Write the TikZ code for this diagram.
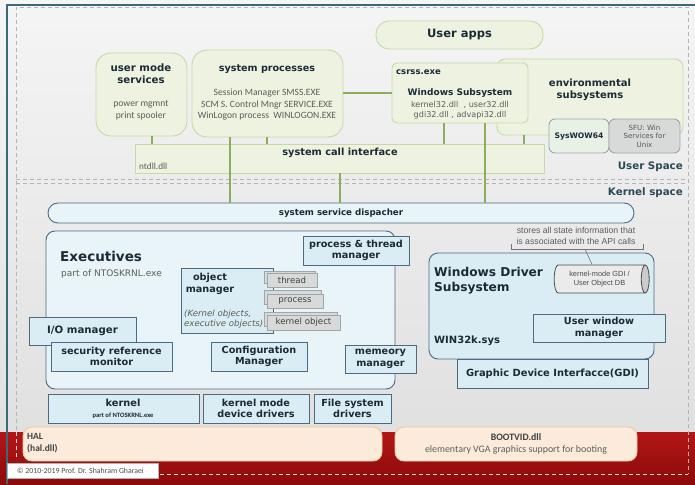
\documentclass[tikz,border=0pt]{standalone}
\usepackage{fontspec}
\setmainfont{DejaVu Sans}
\newfontfamily\calf{Carlito}
\newfontfamily\arif{Liberation Sans}
\usetikzlibrary{shapes.geometric}
\definecolor{gF}{HTML}{EDF3E0}
\definecolor{gB}{HTML}{C6D9A6}
\definecolor{gL}{HTML}{8CAE5A}
\definecolor{bF}{HTML}{DAEDF4}
\definecolor{bB}{HTML}{4D6A80}
\definecolor{tx}{HTML}{1C2A36}
\definecolor{sub}{HTML}{5A5F58}
\definecolor{grF}{HTML}{D8D9D9}
\definecolor{grB}{HTML}{9FA6AA}
\definecolor{pF}{HTML}{FCEBDA}
\definecolor{pB}{HTML}{E8C9A2}
\definecolor{teal}{HTML}{3D6878}
\definecolor{dash}{HTML}{B0B7B7}
\newcommand\fsz[1]{\fontsize{#1}{\fpeval{#1*1.2}}\selectfont}
\newcommand\rbox[6]{\node[#2,minimum width={#5-#3},minimum height={#6-#4}] (#1) at ({(#3+#5)/2},{(#4+#6)/2})}
\tikzset{
  gbox/.style={draw=gB,fill=gF,line width=0.9pt,inner sep=0pt,rounded corners=12pt},
  bbox/.style={draw=bB,fill=bF,line width=0.9pt,inner sep=0pt,align=center,text=tx,font=\bfseries\fsz{9.7}},
  grbox/.style={draw=grB,fill=grF,line width=0.7pt,inner sep=0pt,text=black!75,font=\fsz{8.6}},
  pbox/.style={draw=pB,fill=pF,line width=0.9pt,inner sep=0pt,rounded corners=9pt},
  ttl/.style={inner sep=0pt,align=center,text=tx,font=\bfseries\fsz{9.6}},
  subt/.style={inner sep=0pt,align=center,text=sub,font=\calf\fsz{9.6}},
  conn/.style={draw=gL,line width=1.3pt},
  dsh/.style={draw=dash,line width=0.9pt,dash pattern=on 4pt off 3pt}
}
\begin{document}
\begin{tikzpicture}[x=1pt,y=-1pt]
\useasboundingbox (0,0) rectangle (695,484);
% background
\shade[top color=black!4,bottom color=black!12] (0,0) rectangle (695,432);
\shade[top color={rgb,255:red,180;green,22;blue,22},bottom color={rgb,255:red,140;green,10;blue,10}] (0,432) rectangle (695,484);
\draw[teal,line width=1.6pt] (7,484) -- (7,5) -- (695,5);
% dashed space frames
\draw[dsh] (16,430) -- (16,7) -- (688,7) -- (688,474);
\draw[dsh] (16,179) -- (688,179);
\draw[dsh] (16,183) -- (688,183);
\draw[draw=white!85!red,line width=0.9pt,dash pattern=on 4pt off 3pt] (16,432) -- (16,460);
\draw[draw=white!85!red,line width=0.9pt,dash pattern=on 4pt off 3pt] (160,474) -- (688,474);
\node[inner sep=0pt,anchor=east,text=teal!70!black,font=\bfseries\fsz{10.3}] (uslbl) at (683,167) {User Space};
\node[inner sep=0pt,anchor=east,text=teal!70!black,font=\bfseries\fsz{10.3}] (kslbl) at (683,193) {Kernel space};

% ---------- user space ----------
\rbox{ua}{gbox,rounded corners=13pt,text=tx,font=\bfseries\fsz{11.5}}{376}{21}{543}{49} {User apps};
\rbox{ums}{gbox,rounded corners=15pt}{96}{53}{187}{136} {};
\node[ttl,font=\bfseries\fsz{10.2}] (umsT) at (141,74) {user mode\\services};
\node[subt] (umsS) at (141,110) {power mgmnt\\print spooler};
\rbox{sp}{gbox,rounded corners=15pt}{192}{50}{343}{137} {};
\node[ttl] (spT) at (267,69) {system processes};
\node[subt] (spS) at (267,105) {Session Manager SMSS.EXE\\SCM S. Control Mngr SERVICE.EXE\\WinLogon process~ WINLOGON.EXE};
\rbox{env}{gbox,rounded corners=8pt}{497}{59}{683}{135} {};
\node[ttl,font=\bfseries\fsz{10}] (envT) at (590,90) {environmental\\subsystems};
\rbox{csrss}{gbox,rounded corners=5pt}{392}{63}{528}{123} {};
\node[inner sep=0pt,anchor=west,text=tx,font=\bfseries\fsz{8.5}] (csT) at (396,72) {csrss.exe};
\node[ttl,font=\bfseries\fsz{9}] (wsT) at (460,93) {Windows Subsystem};
\node[inner sep=0pt,align=center,text=sub,font=\fsz{8.1}] (wsS) at (460,110) {kernel32.dll~ , user32.dll\\gdi32.dll , advapi32.dll};
\rbox{sysw}{gbox,draw=grB,fill=gF!70!bF,rounded corners=6pt,text=tx,font=\bfseries\fsz{7.6}}{549}{119}{609}{153} {SysWOW64};
\rbox{sfu}{gbox,draw=grB,fill=grF,rounded corners=6pt,align=center,text=black!65,font=\fsz{7.1}}{609}{119}{680}{153} {SFU: Win\\Services for\\Unix};
\rbox{sci}{gbox,rounded corners=0pt}{135}{144}{544}{173} {};
\node[ttl,font=\bfseries\fsz{9.8}] (sciT) at (340,153) {system call interface};
\node[inner sep=0pt,anchor=west,text=sub,font=\calf\fsz{9.2}] (ntdll) at (139,166) {ntdll.dll};

% connectors
\draw[conn] (ums.south -| 152,0) -- (sci.north -| 152,0);
\draw[conn] (sp.south -| 267,0) -- (sci.north -| 267,0);
\draw[conn] (sp.east |- 0,93) -- (csrss.west |- 0,93);
\draw[conn] (csrss.south -| 444,0) -- (sci.north -| 444,0);
\draw[conn] (env.south -| 524,0) -- (sci.north -| 524,0);

% ---------- kernel space ----------
\rbox{disp}{bbox,fill=bF!60!white,rounded corners=10pt,font=\bfseries\fsz{8.7}}{48}{203}{634}{223} {system service dispacher};
\draw[conn] (sp.south -| 230,0) -- (disp.north -| 230,0);
\draw[conn] (csrss.south -| 485,0) -- (disp.north -| 485,0);
\draw[conn] (sci.south -| 340,0) -- (disp.north -| 340,0);

\rbox{exe}{bbox,fill=bF!60!white,rounded corners=9pt}{46}{231}{395}{389} {};
\node[inner sep=0pt,anchor=base west,text=tx,font=\bfseries\fsz{13.5}] (exeT) at (60,261) {Executives};
\node[inner sep=0pt,anchor=base west,text=sub,font=\fsz{9}] (exeS) at (61,276) {part of NTOSKRNL.exe};
\rbox{ptm}{bbox}{303}{236}{409}{265} {process \& thread\\manager};
\rbox{om}{bbox}{181}{268}{273}{333} {};
\node[inner sep=0pt,align=center,text=tx,font=\bfseries\fsz{9.7}] (omT) at (210,284) {object\\manager};
\node[inner sep=0pt,align=left,anchor=west,text=sub,font=\itshape\fsz{8.6}] (omS) at (184,319) {(Kernel objects,\\executive objects)};
\rbox{thb}{grbox}{264}{271}{315}{283} {};
\rbox{thf}{grbox}{267}{273}{317}{287} {thread};
\rbox{prb}{grbox}{264}{290}{321}{304} {};
\rbox{prf}{grbox}{267}{294}{323}{308} {process};
\rbox{kob}{grbox}{264}{312}{337}{326} {};
\rbox{kof}{grbox}{267}{315}{340}{330} {kernel object};
\rbox{io}{bbox,font=\bfseries\fsz{10.2}}{29}{317}{136}{345} {I/O manager};
\rbox{srm}{bbox}{51}{342}{172}{371} {security reference\\monitor};
\rbox{cfg}{bbox}{211}{342}{307}{371} {Configuration\\Manager};
\rbox{mem}{bbox}{345}{345}{416}{373} {memeory\\manager};

\rbox{kern}{bbox}{48}{394}{199}{423} {};
\node[inner sep=0pt,text=tx,font=\bfseries\fsz{9.8}] (kernT) at (123,403) {kernel};
\node[inner sep=0pt,text=tx,font=\calf\bfseries\fsz{6.6}] (kernS) at (123,416) {part of NTOSKRNL.exe};
\rbox{kmdd}{bbox}{203}{394}{309}{423} {kernel mode\\device drivers};
\rbox{fsd}{bbox}{314}{394}{391}{423} {File system\\drivers};

% windows driver subsystem
\node[inner sep=0pt,align=center,text=sub,font=\arif\fsz{8.7}] (callT) at (576,236) {stores all state information that\\is associated with the API calls};
\draw[draw=black!55,line width=0.6pt] (511,244) -- (511,249) -- (643,249) -- (643,244);
\rbox{wds}{bbox,rounded corners=9pt}{429}{253}{654}{359} {};
\node[inner sep=0pt,anchor=north west,align=left,text=tx,font=\bfseries\fsz{12.2}] (wdsT) at (434,267) {Windows Driver\\Subsystem};
\node[cylinder,draw=black!70,line width=0.8pt,cylinder uses custom fill,cylinder body fill=white!92!black,cylinder end fill=white!80!black,shape aspect=0.5,minimum height=95pt,minimum width=28pt,inner sep=0pt,align=center,text=black!70,font=\arif\fsz{7.4}] (cyl) at (599.5,279) {kernel-mode GDI /\\User Object DB};
\coordinate (brk) at (585,249);
\draw[draw=black!55,line width=0.6pt] (brk) -- (cyl.north -| 592,0);
\rbox{uwm}{bbox}{533}{314}{665}{342} {User window\\manager};
\node[inner sep=0pt,anchor=base west,text=tx,font=\bfseries\fsz{10}] (w32) at (434,343) {WIN32k.sys};
\rbox{gdi}{bbox,font=\bfseries\fsz{9.9}}{457}{359}{648}{388} {Graphic Device Interfacce(GDI)};

% HAL & bootvid
\rbox{hal}{pbox}{23}{427}{382}{461} {};
\node[inner sep=0pt,anchor=west,align=left,text=black!75,font=\calf\bfseries\fsz{9.5}] (halT) at (27,443) {HAL\\(hal.dll)};
\rbox{boot}{pbox}{395}{427}{637}{461} {};
\node[inner sep=0pt,text=black!75,font=\calf\bfseries\fsz{9.8}] (bootT) at (516,437) {BOOTVID.dll};
\node[inner sep=0pt,text=sub,font=\calf\fsz{9.9}] (bootS) at (516,450) {elementary VGA graphics support for booting};

\rbox{copy}{draw=black!30,fill=white,inner sep=0pt,line width=0.5pt}{7}{463}{158}{478} {};
\node[inner sep=0pt,anchor=west,text=black!70,font=\calf\fsz{7.8}] (copyT) at (17,470.5) {\textcopyright{} 2010-2019 Prof. Dr. Shahram Gharaei};
\end{tikzpicture}
\end{document}
